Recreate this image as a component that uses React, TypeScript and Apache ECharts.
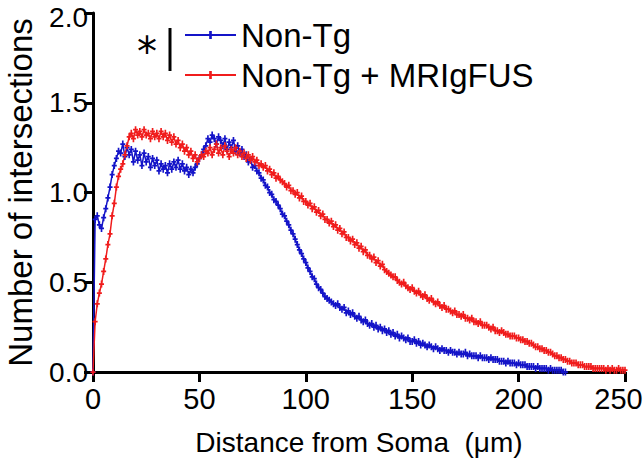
import React, { useEffect, useRef } from "react";
import * as echarts from "echarts";

// Distance from soma, sampled every 1 µm (index = µm)
const nonTg: number[] = [
  0.00, 0.85, 0.87, 0.82, 0.80, 0.86, 0.91, 0.97, 1.03, 1.10,
  1.15, 1.19, 1.23, 1.22, 1.27, 1.20, 1.25, 1.21, 1.24, 1.17,
  1.23, 1.18, 1.21, 1.15, 1.22, 1.17, 1.20, 1.14, 1.19, 1.15,
  1.18, 1.12, 1.16, 1.13, 1.15, 1.11, 1.16, 1.13, 1.17, 1.14,
  1.18, 1.13, 1.16, 1.12, 1.14, 1.10, 1.13, 1.11, 1.14, 1.16,
  1.19, 1.21, 1.24, 1.26, 1.30, 1.28, 1.32, 1.30, 1.27, 1.31,
  1.29, 1.26, 1.30, 1.24, 1.28, 1.25, 1.29, 1.23, 1.26, 1.22,
  1.24, 1.20, 1.21, 1.17, 1.18, 1.14, 1.15, 1.12, 1.11, 1.08,
  1.07, 1.04, 1.03, 1.00, 0.99, 0.96, 0.95, 0.93, 0.91, 0.88,
  0.87, 0.84, 0.82, 0.79, 0.77, 0.74, 0.71, 0.68, 0.66, 0.63,
  0.61, 0.58, 0.56, 0.53, 0.52, 0.49, 0.47, 0.46, 0.44, 0.42,
  0.41, 0.40, 0.39, 0.38, 0.37, 0.38, 0.36, 0.35, 0.36, 0.33,
  0.34, 0.32, 0.33, 0.31, 0.30, 0.31, 0.29, 0.28, 0.29, 0.27,
  0.26, 0.27, 0.25, 0.26, 0.24, 0.25, 0.23, 0.24, 0.22, 0.23,
  0.21, 0.22, 0.20, 0.21, 0.19, 0.20, 0.19, 0.18, 0.19, 0.17,
  0.17, 0.18, 0.16, 0.17, 0.15, 0.16, 0.15, 0.14, 0.15, 0.14,
  0.13, 0.14, 0.13, 0.12, 0.13, 0.12, 0.12, 0.11, 0.12, 0.11,
  0.11, 0.10, 0.11, 0.10, 0.10, 0.11, 0.09, 0.10, 0.09, 0.09,
  0.09, 0.08, 0.09, 0.08, 0.08, 0.08, 0.07, 0.08, 0.07, 0.07,
  0.07, 0.06, 0.06, 0.06, 0.05, 0.06, 0.05, 0.05, 0.05, 0.04,
  0.05, 0.04, 0.04, 0.04, 0.03, 0.03, 0.03, 0.03, 0.02, 0.03,
  0.02, 0.02, 0.02, 0.02, 0.01, 0.02, 0.01, 0.01, 0.01, 0.01,
  0.01, 0.00, 0.00,
];

const nonTgFus: number[] = [
  0.00, 0.28, 0.38, 0.44, 0.49, 0.56, 0.63, 0.71, 0.77, 0.87,
  0.94, 1.03, 1.09, 1.13, 1.16, 1.21, 1.26, 1.31, 1.33, 1.30,
  1.35, 1.32, 1.34, 1.31, 1.35, 1.32, 1.33, 1.30, 1.34, 1.31,
  1.33, 1.30, 1.34, 1.31, 1.33, 1.29, 1.32, 1.28, 1.31, 1.27,
  1.29, 1.25, 1.27, 1.23, 1.25, 1.21, 1.23, 1.19, 1.21, 1.17,
  1.19, 1.21, 1.20, 1.23, 1.22, 1.25, 1.21, 1.24, 1.27, 1.22,
  1.25, 1.21, 1.26, 1.23, 1.20, 1.24, 1.22, 1.25, 1.21, 1.23,
  1.20, 1.22, 1.19, 1.21, 1.18, 1.20, 1.17, 1.18, 1.15, 1.16,
  1.14, 1.15, 1.12, 1.13, 1.10, 1.11, 1.08, 1.09, 1.07, 1.06,
  1.05, 1.03, 1.04, 1.01, 1.01, 0.99, 1.00, 0.97, 0.98, 0.95,
  0.95, 0.93, 0.94, 0.91, 0.92, 0.89, 0.90, 0.87, 0.88, 0.85,
  0.85, 0.83, 0.84, 0.81, 0.82, 0.79, 0.80, 0.77, 0.78, 0.75,
  0.75, 0.73, 0.74, 0.71, 0.72, 0.69, 0.70, 0.67, 0.68, 0.65,
  0.65, 0.63, 0.64, 0.61, 0.62, 0.59, 0.60, 0.57, 0.56, 0.55,
  0.54, 0.53, 0.53, 0.51, 0.50, 0.49, 0.50, 0.48, 0.47, 0.46,
  0.47, 0.45, 0.44, 0.45, 0.43, 0.42, 0.43, 0.41, 0.40, 0.41,
  0.39, 0.38, 0.39, 0.37, 0.36, 0.37, 0.35, 0.35, 0.34, 0.33,
  0.34, 0.32, 0.32, 0.31, 0.32, 0.30, 0.30, 0.29, 0.30, 0.28,
  0.28, 0.27, 0.28, 0.26, 0.26, 0.26, 0.25, 0.24, 0.25, 0.23,
  0.23, 0.22, 0.23, 0.22, 0.21, 0.21, 0.20, 0.20, 0.20, 0.19,
  0.19, 0.18, 0.18, 0.17, 0.17, 0.16, 0.16, 0.15, 0.14, 0.14,
  0.13, 0.13, 0.12, 0.12, 0.11, 0.11, 0.10, 0.09, 0.09, 0.08,
  0.08, 0.07, 0.07, 0.06, 0.06, 0.05, 0.05, 0.05, 0.04, 0.04,
  0.04, 0.03, 0.03, 0.03, 0.03, 0.02, 0.02, 0.02, 0.02, 0.02,
  0.02, 0.01, 0.02, 0.01, 0.02, 0.01, 0.01, 0.02, 0.01, 0.01,
  0.01,
];

const seriesNames = ["Non-Tg", "Non-Tg + MRIgFUS"];
const seriesColors = ["#1414c8", "#f01c1c"];
const yTicks = [0, 0.5, 1.0, 1.5, 2.0];
const xTicks = [0, 50, 100, 150, 200, 250];

const FONT = "'Liberation Sans', Arial, Helvetica, sans-serif";
const PLUS = "path://M2,0h2v3h2v2h-2v3h-2v-3h-2v-2h2z";

function toPoints(values: number[]): [number, number][] {
  return values.map((v, i) => [i, v]);
}

export default function App() {
  const ref = useRef<HTMLDivElement>(null);

  useEffect(() => {
    if (!ref.current) return;
    const chart = echarts.init(ref.current, undefined, { renderer: "svg" });
    const axisCommon = {
      axisLine: { show: true, onZero: false, lineStyle: { color: "#000", width: 3 } },
      axisTick: { show: true, length: 10, lineStyle: { color: "#000", width: 3 } },
      splitLine: { show: false },
    };
    const xMax = xTicks[xTicks.length - 1];
    const yMax = yTicks[yTicks.length - 1];
    chart.setOption({
      animation: false,
      backgroundColor: "#fff",
      textStyle: { fontFamily: FONT },
      grid: {
        left: 93,
        right: 19,
        top: 13,
        bottom: 95,
        containLabel: false,
        outerBoundsMode: "none",
      },
      legend: {
        orient: "vertical",
        left: 179,
        top: 12,
        itemWidth: 51,
        itemHeight: 10,
        itemGap: 4,
        data: seriesNames,
        textStyle: { fontSize: 33, color: "#000", fontFamily: FONT, lineHeight: 36 },
      },
      xAxis: {
        type: "value",
        min: xTicks[0],
        max: xMax,
        interval: xTicks[1] - xTicks[0],
        ...axisCommon,
        axisLabel: {
          fontSize: 29,
          color: "#000",
          margin: 12,
          fontFamily: FONT,
          formatter: (v: number) => (v === xMax ? `{last|${v}}` : `${v}`),
          rich: {
            last: { fontSize: 29, color: "#000", fontFamily: FONT, padding: [0, 13, 0, 0] },
          },
        },
        name: "Distance from Soma  (μm)",
        nameLocation: "middle",
        nameGap: 56,
        nameTextStyle: { fontSize: 28, color: "#000", fontFamily: FONT },
      },
      yAxis: {
        type: "value",
        min: yTicks[0],
        max: yMax,
        interval: yTicks[1] - yTicks[0],
        ...axisCommon,
        axisTick: { show: true, length: 9, lineStyle: { color: "#000", width: 3 } },
        axisLabel: {
          fontSize: 28,
          color: "#000",
          margin: 5,
          fontFamily: FONT,
          formatter: (v: number) => (v === yMax ? `{top|${v.toFixed(1)}}` : v.toFixed(1)),
          rich: {
            top: { fontSize: 28, color: "#000", fontFamily: FONT, padding: [9, 0, 0, 0] },
          },
        },
        name: "Number of intersections",
        nameLocation: "middle",
        nameGap: 58,
        nameTextStyle: { fontSize: 33, lineHeight: 30, color: "#000", fontFamily: FONT },
      },
      graphic: [
        {
          type: "text",
          left: 137,
          top: 32,
          style: { text: "*", fontSize: 40, fill: "#000", fontFamily: "'DejaVu Sans', sans-serif" },
        },
        {
          type: "line",
          shape: { x1: 170, y1: 28, x2: 170, y2: 71 },
          style: { stroke: "#000", lineWidth: 3 },
        },
      ],
      series: [nonTg, nonTgFus].map((vals, k) => ({
        name: seriesNames[k],
        type: "line",
        data: toPoints(vals),
        symbol: PLUS,
        symbolSize: [5, 7],
        showSymbol: true,
        color: seriesColors[k],
        lineStyle: { color: seriesColors[k], width: 1.5 },
        itemStyle: { color: seriesColors[k] },
      })),
    });
    return () => chart.dispose();
  }, []);

  return <div ref={ref} style={{ width: 644, height: 467, position: "absolute", left: 0, top: 0 }} />;
}
